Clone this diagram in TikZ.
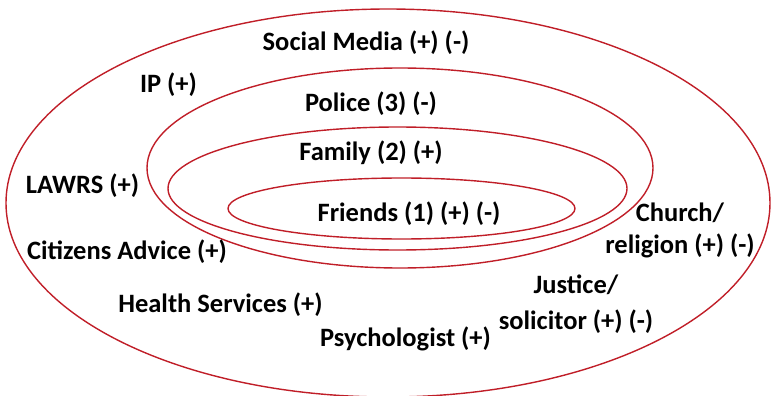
\documentclass[tikz,border=0pt]{standalone}
\usepackage{fontspec}
\setmainfont{Carlito}
\begin{document}
\begin{tikzpicture}[x=1pt,y=-1pt,
  ring/.style={draw={rgb,255:red,192;green,30;blue,40},line width=1.4pt},
  lbl/.style={font=\bfseries\fontsize{26.5}{31}\selectfont,inner sep=0pt,align=center}]
\useasboundingbox (0,0) rectangle (772,396);
% nested circles of support
\draw[ring] (388,203) ellipse [x radius=382, y radius=194];
\draw[ring] (400,168) ellipse [x radius=253, y radius=100];
\draw[ring] (397.5,188.5) ellipse [x radius=229.5, y radius=61.5];
\draw[ring] (401.5,208.5) ellipse [x radius=173.5, y radius=30.5];
% labels
\node[lbl] (social) at (366,43) {Social Media (+) (-)};
\node[lbl] (ip) at (168.5,85) {IP (+)};
\node[lbl] (police) at (371,104) {Police (3) (-)};
\node[lbl] (family) at (371,153) {Family (2) (+)};
\node[lbl] (friends) at (409,214) {Friends (1) (+) (-)};
\node[lbl] (lawrs) at (82.5,186) {LAWRS (+)};
\node[lbl] (citizens) at (127,252) {Citizens Advice (+)};
\node[lbl] (health) at (220.5,305) {Health Services (+)};
\node[lbl] (psych) at (405.5,339) {Psychologist (+)};
\node[lbl,font=\bfseries\fontsize{26.5}{32}\selectfont] (church) at (680,230) {Church/\\religion (+) (-)};
\node[lbl,font=\bfseries\fontsize{26.5}{36}\selectfont] (justice) at (576,304) {Justice/\\solicitor (+) (-)};
\end{tikzpicture}
\end{document}
